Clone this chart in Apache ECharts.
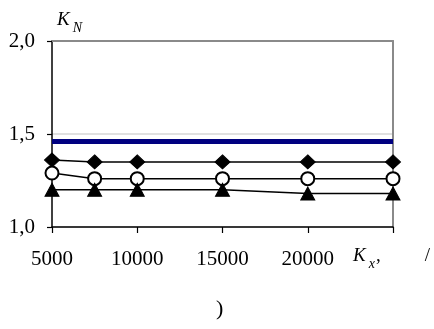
<!DOCTYPE html>
<html>
<head>
<meta charset="utf-8">
<script src="https://cdn.jsdelivr.net/npm/echarts@6/dist/echarts.min.js"></script>
<style>
  html, body { margin: 0; padding: 0; background: #fff; }
  #chart { width: 434px; height: 329px; }
</style>
</head>
<body>
<div id="chart"></div>
<script>
// x positions (K_x) and K_N values
var xVals = [5000, 7500, 10000, 15000, 20000, 25000];
var blueLine = [1.46, 1.46, 1.46, 1.46, 1.46, 1.46];
var diamonds = [1.36, 1.35, 1.35, 1.35, 1.35, 1.35];
var circles = [1.29, 1.26, 1.26, 1.26, 1.26, 1.26];
var triangles = [1.20, 1.20, 1.20, 1.20, 1.18, 1.18];
var xTicks = [5000, 10000, 15000, 20000];

var serif = '"Liberation Serif", "Times New Roman", serif';

function pairs(ys) {
  return xVals.map(function (x, i) { return [x, ys[i]]; });
}

// italic letter with a lowered subscript
function subRich(big, small, extra) {
  var r = {
    k: { fontFamily: serif, fontSize: big, fontStyle: 'italic', fontWeight: 'normal', color: '#000', lineHeight: big, verticalAlign: 'top' },
    s: { fontFamily: serif, fontSize: small, fontStyle: 'italic', fontWeight: 'normal', color: '#000', lineHeight: big + 6, verticalAlign: 'bottom', padding: [0, 0, 0, 3] }
  };
  for (var key in extra) r[key] = extra[key];
  return r;
}

var dom = document.getElementById('chart');
var myChart = echarts.init(dom, null, { renderer: 'canvas' });

var option = {
  animation: false,
  title: [
    {
      text: '{k|K}{s|N}',
      left: 57, top: 10, padding: 0,
      textStyle: { fontWeight: 'normal', rich: subRich(19, 14) }
    },
    {
      text: ')',
      left: 216, top: 298, padding: 0,
      textStyle: { fontFamily: serif, fontSize: 22, fontWeight: 'normal', color: '#000' }
    }
  ],
  grid: { left: 52, right: 41, top: 41, bottom: 102, containLabel: false },
  xAxis: [
    {
      type: 'value', min: 5000, max: 25000, interval: 5000,
      axisLine: { show: true, onZero: false, lineStyle: { color: '#000', width: 1.5 } },
      axisTick: { show: true, length: 6, lineStyle: { color: '#000', width: 1.2 } },
      splitLine: { show: false },
      axisLabel: {
        margin: 22, fontFamily: serif, fontSize: 21, color: '#000',
        formatter: function (v) { return xTicks.indexOf(v) >= 0 ? String(v) : ''; }
      },
      name: '{k|K}{s|x}{c|,}{g|/}',
      nameLocation: 'end', nameGap: -40,
      nameTextStyle: {
        padding: [64, 0, 0, 0],
        rich: subRich(19, 14, {
          c: { fontFamily: serif, fontSize: 19, color: '#000', lineHeight: 19, verticalAlign: 'top', padding: [0, 0, 0, 1] },
          g: { fontFamily: serif, fontSize: 19, color: '#000', lineHeight: 19, verticalAlign: 'top', padding: [0, 0, 0, 44] }
        })
      }
    },
    {
      type: 'value', position: 'top', min: 5000, max: 25000, interval: 5000,
      axisLine: { show: true, onZero: false, lineStyle: { color: '#8a8a8a', width: 2 } },
      axisTick: { show: false }, axisLabel: { show: false }, splitLine: { show: false }
    }
  ],
  yAxis: [
    {
      type: 'value', min: 1, max: 2, interval: 0.5,
      axisLine: { show: true, onZero: false, lineStyle: { color: '#000', width: 1.5 } },
      axisTick: { show: true, length: 5, lineStyle: { color: '#000', width: 1.2 } },
      splitLine: { show: true, lineStyle: { color: '#d6d6d6', width: 1.5 } },
      axisLabel: {
        margin: 17, fontFamily: serif, fontSize: 21, color: '#000',
        formatter: function (v) { return v.toFixed(1).replace('.', ','); }
      }
    },
    {
      type: 'value', position: 'right', min: 1, max: 2, interval: 0.5,
      axisLine: { show: true, onZero: false, lineStyle: { color: '#8a8a8a', width: 2 } },
      axisTick: { show: false }, axisLabel: { show: false }, splitLine: { show: false }
    }
  ],
  series: [
    {
      name: 'blue', type: 'line', data: pairs(blueLine),
      symbol: 'none', lineStyle: { color: '#000080', width: 5 }, z: 3
    },
    {
      name: 'diamond', type: 'line', data: pairs(diamonds),
      symbol: 'diamond', symbolSize: [15, 14],
      lineStyle: { color: '#000', width: 1.5 },
      itemStyle: { color: '#000', borderColor: '#000' }, z: 4
    },
    {
      name: 'circle', type: 'line', data: pairs(circles),
      symbol: 'circle', symbolSize: 13,
      lineStyle: { color: '#000', width: 1.5 },
      itemStyle: { color: '#fff', borderColor: '#000', borderWidth: 2 }, z: 4
    },
    {
      name: 'triangle', type: 'line', data: pairs(triangles),
      symbol: 'triangle', symbolSize: [14, 13],
      lineStyle: { color: '#000', width: 1.5 },
      itemStyle: { color: '#000', borderColor: '#000' }, z: 4
    }
  ]
};

myChart.setOption(option);
window.addEventListener('resize', myChart.resize);
</script>
</body>
</html>
